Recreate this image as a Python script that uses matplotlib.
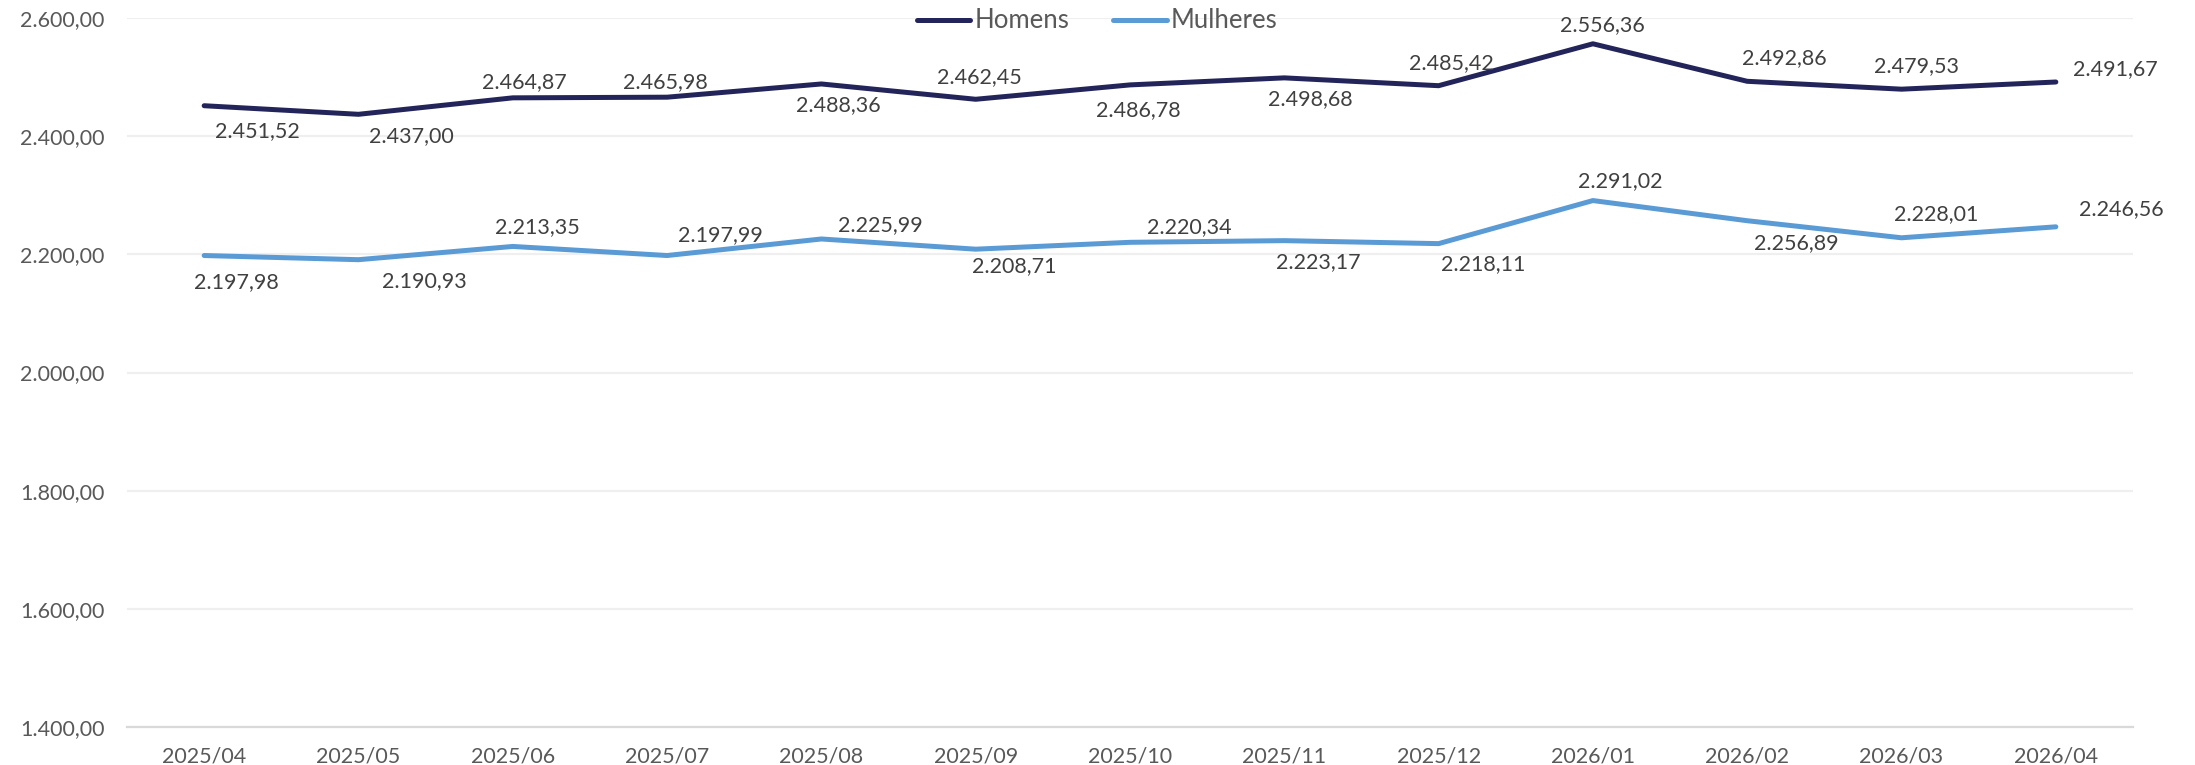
import matplotlib
matplotlib.use("Agg")
import matplotlib.pyplot as plt
from matplotlib.ticker import FuncFormatter

plt.rcParams['font.family'] = ['Lato', 'DejaVu Sans']

categories = ["2025/04", "2025/05", "2025/06", "2025/07", "2025/08", "2025/09", "2025/10",
              "2025/11", "2025/12", "2026/01", "2026/02", "2026/03", "2026/04"]
homens = [2451.52, 2437.00, 2464.87, 2465.98, 2488.36, 2462.45, 2486.78,
          2498.68, 2485.42, 2556.36, 2492.86, 2479.53, 2491.67]
mulheres = [2197.98, 2190.93, 2213.35, 2197.99, 2225.99, 2208.71, 2220.34,
            2223.17, 2218.11, 2291.02, 2256.89, 2228.01, 2246.56]

# label offsets in pixels (dx, dy downward positive)
off_h = [(53, 25), (53, 22), (12, -16), (-2, -15), (17, 21), (4, -22), (8, 25),
         (26, 21), (13, -23), (9, -19), (37, -23), (15, -23), (60, -13)]
off_m = [(32, 27), (66, 21), (25, -19), (53, -20), (59, -14), (39, 17), (59, -15),
         (34, 21), (45, 20), (27, -19), (49, 22), (35, -24), (65, -18)]

C_H = "#23255a"
C_M = "#5b9bd5"
TXT = "#404040"
TICK = "#595959"

def br(v, _=None):
    s = f"{v:,.2f}"
    return s.replace(",", "X").replace(".", ",").replace("X", ".")

fig = plt.figure(figsize=(21.95, 7.65), dpi=100)
ax = fig.add_axes([127/2195, 1-727/765, (2133-127)/2195, (727-18)/765])
x = list(range(len(categories)))
ax.plot(x, homens, color=C_H, lw=3.6, solid_capstyle='round', solid_joinstyle='round', label="Homens", zorder=3)
ax.plot(x, mulheres, color=C_M, lw=3.6, solid_capstyle='round', solid_joinstyle='round', label="Mulheres", zorder=3)

ax.set_xlim(-0.5, len(categories) - 0.5)
ax.set_ylim(1400, 2600)
ax.set_yticks([1400, 1600, 1800, 2000, 2200, 2400, 2600])
ax.yaxis.set_major_formatter(FuncFormatter(br))
ax.set_xticks(x)
ax.set_xticklabels(categories)
ax.grid(axis='y', color='#efefef', lw=1.6, zorder=0)
ax.set_axisbelow(True)
for s in ['top', 'right', 'left']:
    ax.spines[s].set_visible(False)
ax.spines['bottom'].set_color('#d9d9d9')
ax.spines['bottom'].set_linewidth(1.6)
ax.tick_params(axis='both', length=0, labelsize=15.5, labelcolor=TICK)
ax.tick_params(axis='y', pad=16)
ax.tick_params(axis='x', pad=14)

for xi, v, (dx, dy) in zip(x, homens, off_h):
    ax.annotate(br(v), (xi, v), xytext=(dx, -dy), textcoords='offset pixels',
                ha='center', va='center', fontsize=15.5, color=TXT)
for xi, v, (dx, dy) in zip(x, mulheres, off_m):
    ax.annotate(br(v), (xi, v), xytext=(dx, -dy), textcoords='offset pixels',
                ha='center', va='center', fontsize=15.5, color=TXT)

leg = fig.legend(loc='center', bbox_to_anchor=(1097/2195, 1-21/765), ncol=2, frameon=False,
                 fontsize=18.5, handlelength=2.1, handletextpad=0.15, columnspacing=1.7,
                 labelcolor=TICK)

fig.savefig("out.png", dpi=100, facecolor='white')
